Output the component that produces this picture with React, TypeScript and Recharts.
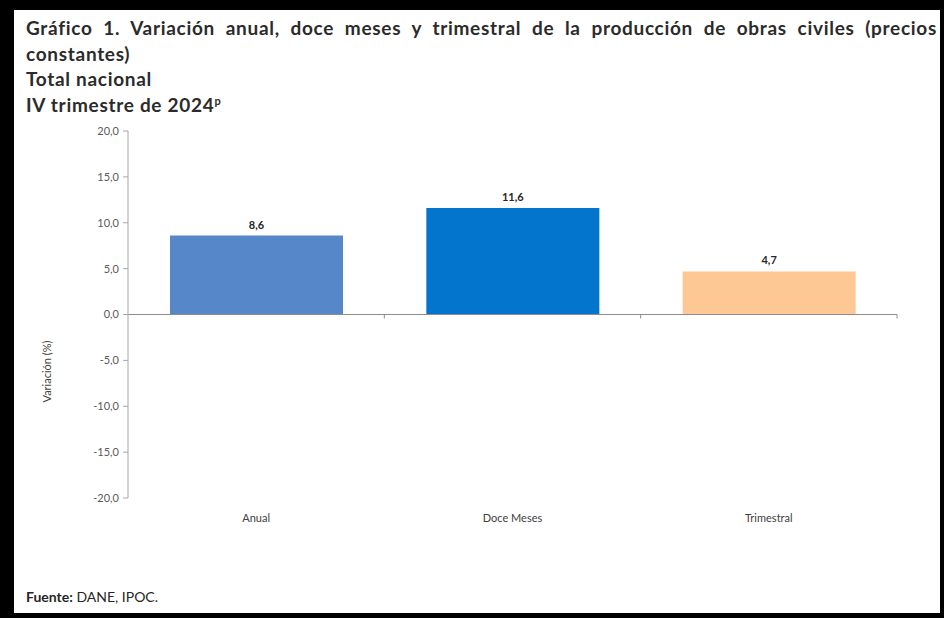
import React from "react";
import {
  BarChart,
  Bar,
  XAxis,
  YAxis,
  Cell,
  LabelList,
  ReferenceLine,
} from "recharts";

const categories = ["Anual", "Doce Meses", "Trimestral"];
const values = [8.6, 11.6, 4.7];
const yTicks = [20, 15, 10, 5, 0, -5, -10, -15, -20];

const BAR_COLORS = ["#5587C9", "#0475CC", "#FEC894"];
const FONT = "Lato, 'Open Sans', sans-serif";

const data = categories.map((name, i) => ({ name, value: values[i] }));

const fmt = (v: number) => v.toFixed(1).replace(".", ",");

function YLabel(props: any) {
  const vb = props.viewBox || {};
  const cx = vb.x - 32;
  const cy = vb.y + vb.height / 2 + 57;
  return (
    <text
      x={cx}
      y={cy}
      transform={`rotate(-90, ${cx}, ${cy})`}
      textAnchor="middle"
      dominantBaseline="central"
      fontSize={11}
      fill="#404040"
      fontFamily={FONT}
    >
      Variación (%)
    </text>
  );
}

// zero line with small tick marks between categories (Excel style)
function ZeroLine(props: any) {
  const { x1, y1, x2, y2 } = props;
  const step = (x2 - x1) / categories.length;
  return (
    <g>
      <line x1={x1} y1={y1} x2={x2} y2={y2} stroke="#8C8C8C" />
      {categories.map((_, i) => {
        const x = x1 + step * (i + 1);
        return (
          <line key={i} x1={x} y1={y1} x2={x} y2={y1 + 4} stroke="#8C8C8C" />
        );
      })}
    </g>
  );
}

export default function App() {
  return (
    <div
      style={{
        position: "absolute",
        left: 0,
        top: 0,
        width: 944,
        height: 618,
        background: "#000",
      }}
    >
      <div
        style={{
          position: "absolute",
          left: 14,
          top: 10,
          width: 926,
          height: 603,
          background: "#fff",
        }}
      />
      <div
        style={{
          position: "absolute",
          left: 26,
          top: 15,
          width: 911,
          fontFamily: FONT,
          fontWeight: 700,
          fontSize: 19,
          letterSpacing: 0.7,
          lineHeight: "25.5px",
          color: "#2b2b2b",
          textAlign: "justify",
        }}
      >
        Gráfico 1. Variación anual, doce meses y trimestral de la producción
        de obras civiles (precios constantes)
        <br />
        Total nacional
        <br />
        IV trimestre de 2024<sup style={{ fontSize: 11, lineHeight: 0 }}>p</sup>
      </div>

      <div style={{ position: "absolute", left: 0, top: 110 }}>
        <BarChart
          width={944}
          height={440}
          data={data}
          margin={{ top: 21, right: 47, bottom: 22, left: 78 }}
        >
          <YAxis
            width={50}
            domain={[-20, 20]}
            ticks={yTicks}
            interval={0}
            tickFormatter={fmt}
            stroke="#A6A6A6"
            tickSize={5}
            tickMargin={4}
            tick={{ fontSize: 11, fill: "#595959", fontFamily: FONT }}
            label={<YLabel />}
          />
          <XAxis
            dataKey="name"
            height={30}
            axisLine={false}
            tickLine={false}
            tickMargin={10}
            tick={{ fontSize: 11, fill: "#404040", fontFamily: FONT }}
          />
          <ReferenceLine y={0} shape={(p: any) => <ZeroLine {...p} />} />
          <Bar dataKey="value" barSize={173} isAnimationActive={false}>
            {data.map((_, i) => (
              <Cell key={i} fill={BAR_COLORS[i]} />
            ))}
            <LabelList
              dataKey="value"
              position="top"
              offset={7}
              formatter={(v: any) => fmt(Number(v))}
              style={{
                fontSize: 11,
                fontWeight: 700,
                fill: "#262626",
                fontFamily: FONT,
              }}
            />
          </Bar>
        </BarChart>
      </div>

      <div
        style={{
          position: "absolute",
          left: 26,
          top: 588,
          fontFamily: FONT,
          fontSize: 14,
          color: "#262626",
        }}
      >
        <b>Fuente:</b> DANE, IPOC.
      </div>
    </div>
  );
}
